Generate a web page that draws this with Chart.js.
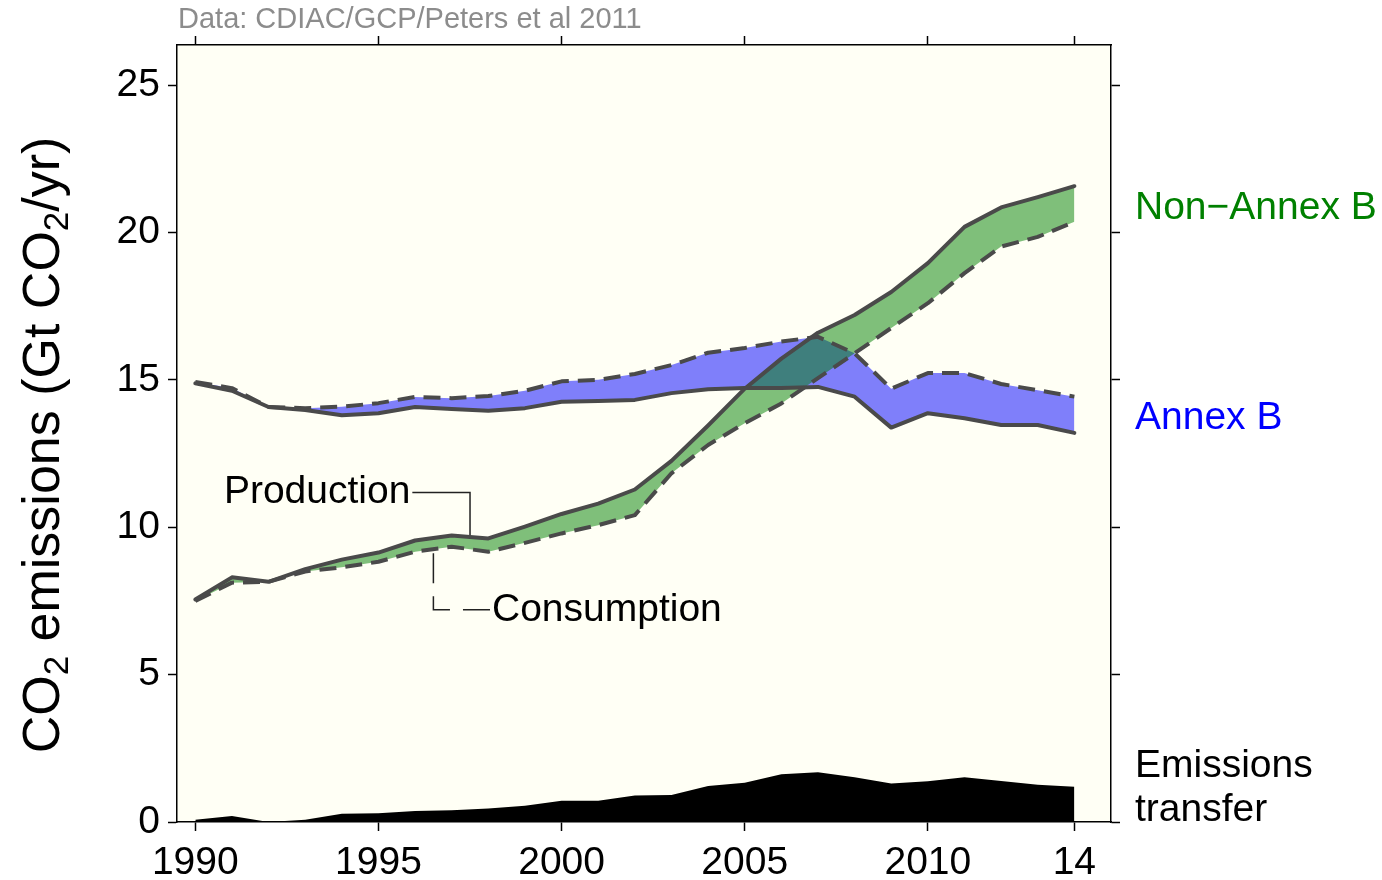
<!DOCTYPE html>
<html>
<head>
<meta charset="utf-8">
<script src="https://cdn.jsdelivr.net/npm/chart.js@4"></script>
<style>
  body { margin: 0; background: #fff; }
  #wrap { width: 1382px; height: 880px; }
</style>
</head>
<body>
<div id="wrap"><canvas id="co2Chart" width="1382" height="880"></canvas></div>
<script>
// data (Gt CO2 / yr)
const years = [1990, 1991, 1992, 1993, 1994, 1995, 1996, 1997, 1998, 1999, 2000, 2001, 2002,
               2003, 2004, 2005, 2006, 2007, 2008, 2009, 2010, 2011, 2012, 2013, 2014];

const nonAnnexProduction  = [7.55, 8.30, 8.15, 8.58, 8.90, 9.14, 9.55, 9.72, 9.62, 10.02, 10.45, 10.80, 11.28,
                             12.25, 13.45, 14.70, 15.72, 16.60, 17.20, 17.98, 18.96, 20.19, 20.85, 21.20, 21.57];
const nonAnnexConsumption = [7.50, 8.12, 8.15, 8.50, 8.64, 8.83, 9.17, 9.34, 9.17, 9.47, 9.79, 10.07, 10.41,
                             11.83, 12.79, 13.53, 14.20, 15.06, 15.90, 16.76, 17.60, 18.62, 19.52, 19.85, 20.36];
const annexProduction     = [14.88, 14.63, 14.08, 13.98, 13.80, 13.87, 14.08, 14.01, 13.95, 14.04, 14.26, 14.28, 14.32,
                             14.55, 14.68, 14.72, 14.72, 14.76, 14.43, 13.38, 13.87, 13.70, 13.47, 13.47, 13.20];
const annexConsumption    = [14.93, 14.72, 14.08, 14.04, 14.09, 14.21, 14.42, 14.38, 14.45, 14.63, 14.95, 15.00, 15.20,
                             15.50, 15.92, 16.08, 16.30, 16.46, 15.90, 14.70, 15.23, 15.23, 14.86, 14.65, 14.43];
const emissionsTransfer   = [0.08, 0.20, 0.00, 0.08, 0.28, 0.30, 0.37, 0.40, 0.46, 0.55, 0.72, 0.72, 0.90,
                             0.92, 1.22, 1.33, 1.62, 1.69, 1.52, 1.31, 1.38, 1.52, 1.39, 1.26, 1.20];

const xTickValues = [1990, 1995, 2000, 2005, 2010, 2014];
const xTickLabels = ["1990", "1995", "2000", "2005", "2010", "14"];
const yTickValues = [0, 5, 10, 15, 20, 25];

const FONT = "'Liberation Sans', Arial, sans-serif";
const lineColor = "#4a4a4a";

function points(values) {
    return years.map((yr, i) => ({ x: yr, y: values[i] }));
}

function bandLine(label, values, dashed, fillColor) {
    return {
        label: label,
        data: points(values),
        borderColor: lineColor,
        borderWidth: 4,
        borderDash: dashed ? [17, 9] : [],
        borderJoinStyle: "round",
        borderCapStyle: dashed ? "butt" : "round",
        backgroundColor: fillColor || "transparent",
        fill: fillColor ? { target: "+1", above: fillColor, below: fillColor } : false,
        pointRadius: 0,
        tension: 0
    };
}

const datasets = [
    {
        label: "Emissions transfer",
        data: points(emissionsTransfer),
        borderColor: "#000",
        borderWidth: 0,
        backgroundColor: "#000",
        fill: "origin",
        pointRadius: 0,
        tension: 0
    },
    bandLine("Non-Annex B production", nonAnnexProduction, false, "rgba(0,128,0,0.5)"),
    bandLine("Non-Annex B consumption", nonAnnexConsumption, true, null),
    bandLine("Annex B production", annexProduction, false, "rgba(0,0,255,0.5)"),
    bandLine("Annex B consumption", annexConsumption, true, null)
];

function axisBase(extra) {
    return Object.assign({
        grid: { drawOnChartArea: false, drawTicks: true, tickLength: 9, tickColor: "#000", tickWidth: 1.5 },
        border: { display: true, color: "#000", width: 1.5 }
    }, extra);
}

const bgPlugin = {
    id: "plotBackground",
    beforeDraw(chart) {
        const a = chart.chartArea;
        const ctx = chart.ctx;
        ctx.save();
        ctx.fillStyle = "#fffff5";
        ctx.fillRect(a.left, a.top, a.right - a.left, a.bottom - a.top);
        ctx.restore();
    }
};

function drawRotatedTitle(ctx, cx, cy, size) {
    const parts = [
        ["CO", false], ["2", true], [" emissions (Gt CO", false], ["2", true], ["/yr)", false]
    ];
    const subSize = Math.round(size * 0.68);
    let total = 0;
    parts.forEach(p => {
        ctx.font = (p[1] ? subSize : size) + "px " + FONT;
        total += ctx.measureText(p[0]).width;
    });
    ctx.save();
    ctx.translate(cx, cy);
    ctx.rotate(-Math.PI / 2);
    ctx.fillStyle = "#000";
    ctx.textAlign = "left";
    ctx.textBaseline = "alphabetic";
    let x = -total / 2;
    const base = size * 0.36;
    parts.forEach(p => {
        ctx.font = (p[1] ? subSize : size) + "px " + FONT;
        ctx.fillText(p[0], x, p[1] ? base + size * 0.17 : base);
        x += ctx.measureText(p[0]).width;
    });
    ctx.restore();
}

const labelPlugin = {
    id: "labels",
    afterDraw(chart) {
        const ctx = chart.ctx;
        const a = chart.chartArea;
        const xs = chart.scales.x;
        const ys = chart.scales.y;
        ctx.save();

        // source note
        ctx.font = "29px " + FONT;
        ctx.fillStyle = "#8c8c8c";
        ctx.textAlign = "left";
        ctx.textBaseline = "middle";
        ctx.fillText("Data: CDIAC/GCP/Peters et al 2011", a.left + 1, 20);

        // region labels on the right
        ctx.font = "39px " + FONT;
        const rx = a.right + 24;
        ctx.fillStyle = "#008000";
        ctx.fillText("Non\u2212Annex B", rx, ys.getPixelForValue(20.83));
        ctx.fillStyle = "#0000ff";
        ctx.fillText("Annex B", rx, ys.getPixelForValue(13.71));
        ctx.fillStyle = "#000";
        ctx.fillText("Emissions", rx, ys.getPixelForValue(1.88));
        ctx.fillText("transfer", rx, ys.getPixelForValue(0.4));

        // Production label + leader
        const prodText = "Production";
        const px = xs.getPixelForValue(1990.78);
        const py = ys.getPixelForValue(11.18);
        ctx.fillText(prodText, px, py);
        const pEnd = px + ctx.measureText(prodText).width + 2;
        const pAx = xs.getPixelForValue(1997.5);
        const pAy = ys.getPixelForValue(9.67) - 2;
        ctx.strokeStyle = "#222";
        ctx.lineWidth = 1.5;
        ctx.beginPath();
        ctx.moveTo(pEnd, py);
        ctx.lineTo(pAx, py);
        ctx.lineTo(pAx, pAy);
        ctx.stroke();

        // Consumption label + dashed leader
        const cx = xs.getPixelForValue(1998.1);
        const cy = ys.getPixelForValue(7.2);
        ctx.fillText("Consumption", cx, cy);
        const cAx = xs.getPixelForValue(1996.5);
        const cAy = ys.getPixelForValue(9.25) + 4;
        ctx.setLineDash([30, 13]);
        ctx.beginPath();
        ctx.moveTo(cAx, cAy);
        ctx.lineTo(cAx, cy);
        ctx.lineTo(cx - 2, cy);
        ctx.stroke();
        ctx.setLineDash([]);

        // y axis title
        drawRotatedTitle(ctx, 40, 445, 52);
        ctx.restore();
    }
};

const config = {
    type: "line",
    data: { datasets: datasets },
    options: {
        responsive: false,
        animation: false,
        layout: { padding: 0 },
        plugins: {
            legend: { display: false },
            tooltip: { enabled: false },
            filler: { drawTime: "beforeDatasetsDraw" }
        },
        scales: {
            x: axisBase({
                type: "linear",
                position: "bottom",
                min: 1989.5,
                max: 2015,
                afterBuildTicks: s => { s.ticks = xTickValues.map(v => ({ value: v })); },
                afterFit: s => { s.height = 58; },
                ticks: {
                    color: "#000",
                    font: { family: FONT, size: 39 },
                    padding: 9,
                    maxRotation: 0,
                    autoSkip: false,
                    callback: v => xTickLabels[xTickValues.indexOf(v)]
                }
            }),
            xTop: axisBase({
                type: "linear",
                axis: "x",
                position: "top",
                min: 1989.5,
                max: 2015,
                afterBuildTicks: s => { s.ticks = xTickValues.map(v => ({ value: v })); },
                afterFit: s => { s.height = 45; },
                ticks: { display: false }
            }),
            y: axisBase({
                type: "linear",
                position: "left",
                min: 0,
                max: 26.36,
                afterBuildTicks: s => { s.ticks = yTickValues.map(v => ({ value: v })); },
                afterFit: s => { s.width = 177; },
                ticks: {
                    color: "#000",
                    font: { family: FONT, size: 39 },
                    padding: 8
                }
            }),
            yRight: axisBase({
                type: "linear",
                axis: "y",
                position: "right",
                min: 0,
                max: 26.36,
                afterBuildTicks: s => { s.ticks = yTickValues.map(v => ({ value: v })); },
                afterFit: s => { s.width = 271; },
                ticks: { display: false }
            })
        }
    },
    plugins: [bgPlugin, labelPlugin]
};

new Chart(document.getElementById("co2Chart").getContext("2d"), config);
</script>
</body>
</html>
